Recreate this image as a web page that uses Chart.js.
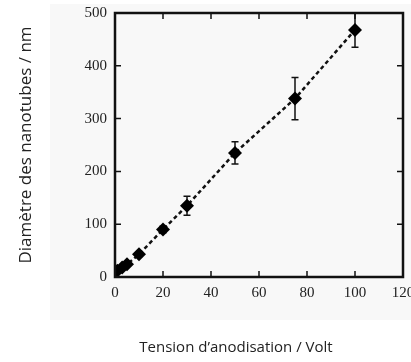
<!DOCTYPE html>
<html>
<head>
<meta charset="utf-8">
<script src="https://cdn.jsdelivr.net/npm/chart.js@4.4.1/dist/chart.umd.min.js"></script>
<style>
  html, body { margin: 0; padding: 0; background: #fff; }
  #wrap { width: 411px; height: 362px; }
</style>
</head>
<body>
<div id="wrap"><canvas id="myChart" width="411" height="362"></canvas></div>
<script>
// anodisation voltage (V) vs nanotube diameter (nm), with error bars
const voltages = [1, 3, 5, 10, 20, 30, 50, 75, 100];
const diameters = [12, 18, 24, 43, 90, 135, 235, 338, 468];
const errors = [2, 3, 3, 4, 6, 18, 21, 40, 33];
const xTicks = [0, 20, 40, 60, 80, 100, 120];
const yTicks = [0, 100, 200, 300, 400, 500];
const xTitle = "Tension d’anodisation / Volt";
const yTitle = "Diamètre des nanotubes / nm";

const tickFont = { family: "'Liberation Serif', 'DejaVu Serif', serif", size: 15 };

// frame, inward tick marks, error bars and the x title
const framePlugin = {
  id: "frame",
  beforeDraw(chart) {
    const ctx = chart.ctx;
    ctx.save();
    ctx.fillStyle = "#f8f8f8";
    ctx.fillRect(50, 4, 361, 316);
    ctx.restore();
  },
  beforeDatasetsDraw(chart) {
    const { ctx, chartArea: a, scales: { x, y } } = chart;
    ctx.save();
    ctx.beginPath();
    ctx.rect(a.left, a.top - 1, a.right - a.left, a.bottom - a.top + 1);
    ctx.clip();
    ctx.strokeStyle = "#111";
    ctx.lineWidth = 1.5;
    voltages.forEach((v, i) => {
      const px = x.getPixelForValue(v);
      const top = y.getPixelForValue(diameters[i] + errors[i]);
      const bot = y.getPixelForValue(diameters[i] - errors[i]);
      ctx.beginPath();
      ctx.moveTo(px, top); ctx.lineTo(px, bot);
      ctx.moveTo(px - 3.5, top); ctx.lineTo(px + 3.5, top);
      ctx.moveTo(px - 3.5, bot); ctx.lineTo(px + 3.5, bot);
      ctx.stroke();
    });
    ctx.restore();
  },
  afterDraw(chart) {
    const { ctx, chartArea: a, scales: { x, y } } = chart;
    ctx.save();
    ctx.strokeStyle = "#111";
    ctx.lineWidth = 1.5;
    ctx.beginPath();
    xTicks.slice(1, -1).forEach(v => {
      const px = x.getPixelForValue(v);
      ctx.moveTo(px, a.bottom); ctx.lineTo(px, a.bottom - 6);
      ctx.moveTo(px, a.top); ctx.lineTo(px, a.top + 6);
    });
    yTicks.slice(1, -1).forEach(v => {
      const py = y.getPixelForValue(v);
      ctx.moveTo(a.left, py); ctx.lineTo(a.left + 6, py);
      ctx.moveTo(a.right, py); ctx.lineTo(a.right - 6, py);
    });
    ctx.stroke();
    ctx.lineWidth = 2.5;
    ctx.strokeRect(a.left, a.top, a.right - a.left, a.bottom - a.top);

    ctx.fillStyle = "#222";
    ctx.font = "15px 'Open Sans', sans-serif";
    ctx.textAlign = "center";
    ctx.textBaseline = "middle";
    ctx.fillText(xTitle, 236, 348);
    ctx.restore();
  }
};

new Chart(document.getElementById("myChart"), {
  type: "line",
  data: {
    datasets: [{
      data: voltages.map((v, i) => ({ x: v, y: diameters[i] })),
      borderColor: "#111",
      borderWidth: 2.5,
      borderDash: [4, 3],
      pointStyle: "rectRot",
      pointRadius: 7,
      pointBackgroundColor: "#000",
      pointBorderColor: "#000",
      pointBorderWidth: 0,
      tension: 0
    }]
  },
  options: {
    responsive: false,
    animation: false,
    layout: { padding: { top: 13, right: 8, bottom: 0, left: 0 } },
    plugins: { legend: { display: false }, tooltip: { enabled: false } },
    scales: {
      x: {
        type: "linear",
        min: 0,
        max: 120,
        afterBuildTicks: s => { s.ticks = xTicks.map(v => ({ value: v })); },
        afterFit: s => { s.height = 85; s.paddingLeft = 0; s.paddingRight = 0; },
        grid: { display: false, drawTicks: false },
        border: { display: false },
        ticks: { font: tickFont, color: "#222", padding: 7 }
      },
      y: {
        min: 0,
        max: 500,
        afterBuildTicks: s => { s.ticks = yTicks.map(v => ({ value: v })); },
        afterFit: s => { s.width = 115; s.paddingTop = 0; s.paddingBottom = 0; },
        grid: { display: false, drawTicks: false },
        border: { display: false },
        ticks: { font: tickFont, color: "#222", padding: 8 },
        title: {
          display: true,
          text: yTitle,
          color: "#222",
          font: { family: "'Open Sans', sans-serif", size: 17 },
          padding: { top: 16, bottom: 0 }
        }
      }
    }
  },
  plugins: [framePlugin]
});
</script>
</body>
</html>
